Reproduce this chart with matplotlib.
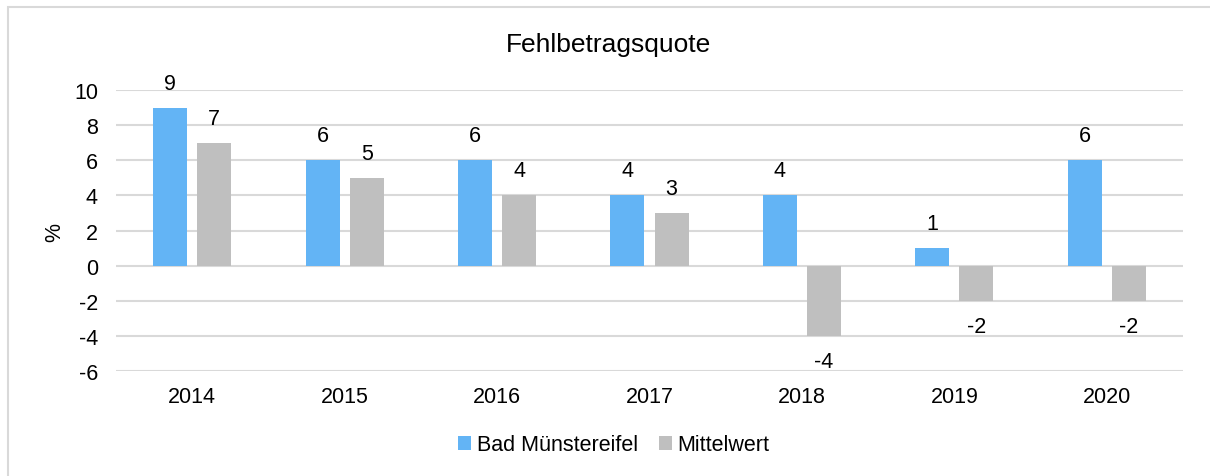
import matplotlib.pyplot as plt
import numpy as np
from matplotlib.patches import Rectangle

plt.rcParams['font.family'] = ['Liberation Sans', 'DejaVu Sans']
plt.rcParams['axes.unicode_minus'] = False

jahre = ['2014', '2015', '2016', '2017', '2018', '2019', '2020']
bad_muenstereifel = [9, 6, 6, 4, 4, 1, 6]
mittelwert = [7, 5, 4, 3, -4, -2, -2]
serien = ['Bad Münstereifel', 'Mittelwert']

W, H = 1210, 477
fig = plt.figure(figsize=(W / 100, H / 100), dpi=100)

# Rahmen des Diagrammbereichs
fig.patches.append(Rectangle((8 / W, -0.1), 1.2, (H - 8) / H + 0.1,
                             transform=fig.transFigure, fill=False,
                             edgecolor='#d9d9d9', linewidth=1.5))

ax = fig.add_axes([116 / W, 1 - 372 / H, (1183 - 116) / W, (372 - 91) / H])

x = np.arange(len(jahre))
bw = 0.223
blau = ax.bar(x - 0.145, bad_muenstereifel, bw, color='#63b4f5', label=serien[0], zorder=3)
grau = ax.bar(x + 0.145, mittelwert, bw, color='#bfbfbf', label=serien[1], zorder=3)

fs = 15.5
for bars, werte in ((blau, bad_muenstereifel), (grau, mittelwert)):
    for b, v in zip(bars, werte):
        cx = b.get_x() + b.get_width() / 2
        if v >= 0:
            ax.annotate(str(v), (cx, v), xytext=(0, 10), textcoords='offset points',
                        ha='center', va='bottom', fontsize=fs)
        else:
            ax.annotate(str(v), (cx, v), xytext=(0, -11), textcoords='offset points',
                        ha='center', va='top', fontsize=fs)

ax.set_xlim(-0.5, len(jahre) - 0.5)
ax.set_ylim(-6, 10)
ax.set_yticks(range(-6, 11, 2))
ax.set_xticks(x)
ax.set_xticklabels(jahre)
ax.tick_params(length=0, labelsize=fs)
ax.tick_params(axis='y', pad=13)
ax.tick_params(axis='x', pad=11)
ax.yaxis.grid(True, color='#d9d9d9', linewidth=1.5, zorder=0)
ax.set_axisbelow(True)
for s in ax.spines.values():
    s.set_visible(False)

fig.text(55 / W, 1 - 232 / H, '%', rotation=90, ha='center', va='center', fontsize=fs)
fig.text(609 / W, 1 - 45 / H, 'Fehlbetragsquote', ha='center', va='center', fontsize=19)

fig.legend(handles=[blau, grau], labels=serien, loc='center', bbox_to_anchor=(614 / W, 1 - 446 / H),
           ncol=2, frameon=False, fontsize=fs, handlelength=0.6, handleheight=0.6,
           handletextpad=0.25, columnspacing=1.0)

fig.savefig('out.png', dpi=100)
